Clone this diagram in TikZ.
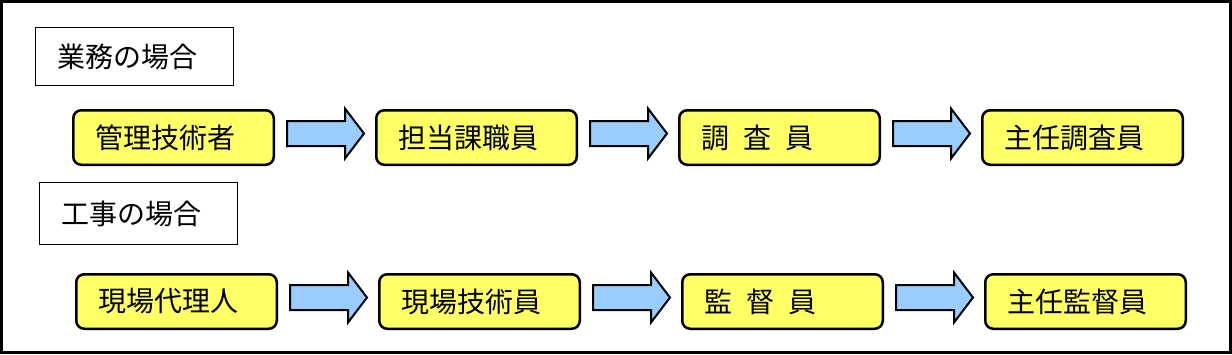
\documentclass[tikz,border=0pt]{standalone}
\usepackage{fontspec}
\newfontfamily\jpfont{Noto Sans CJK JP}
\usetikzlibrary{positioning,calc}
\definecolor{boxyellow}{HTML}{FFFF66}
\definecolor{arrowblue}{HTML}{99CCFF}

\tikzset{
  stepbox/.style={draw,line width=2.5pt,fill=boxyellow,rounded corners=8pt,
    minimum height=54.5pt,text width=156.5pt,inner xsep=22pt,inner ysep=0pt,
    align=left,font=\jpfont\fontsize{28}{34}\selectfont},
  casebox/.style={draw,line width=1pt,minimum height=58pt,text width=154pt,
    inner xsep=22pt,inner ysep=0pt,align=left,font=\jpfont\fontsize{28}{34}\selectfont},
  fatarrow/.style={draw,line width=2pt,fill=arrowblue,line join=miter}
}
\newcommand{\blockarrow}[2]{%
  \draw[fatarrow] let \p1=($(#1.east)+(12pt,4pt)$), \p2=($(#2.west)+(-11pt,4pt)$) in
    (\x1,{\y1+12.5pt}) -- ({\x2-19pt},{\y1+12.5pt}) -- ({\x2-19pt},{\y1+25pt})
    -- (\x2,\y1) -- ({\x2-19pt},{\y1-25pt}) -- ({\x2-19pt},{\y1-12.5pt})
    -- (\x1,{\y1-12.5pt}) -- cycle;}

\begin{document}
\begin{tikzpicture}[x=1pt,y=1pt,node distance=100pt]
\useasboundingbox[fill=white] (0,0) rectangle (1232,-354);
\draw[line width=3pt] (1.5,-1.5) rectangle (1230.5,-352.5);

% 業務
\node[casebox,anchor=north west] (gyomu) at (35,-27) {業務の場合};
\node[stepbox,anchor=north west] (g1) at (72,-109) {管理技術者};
\node[stepbox,right=of g1] (g2) {担当課職員};
\node[stepbox,right=of g2] (g3) {調\enspace 査\enspace 員};
\node[stepbox,right=of g3] (g4) {主任調査員};
\blockarrow{g1}{g2}
\blockarrow{g2}{g3}
\blockarrow{g3}{g4}

% 工事
\node[casebox,anchor=north west,minimum height=62pt] (koji) at (39,-182) {工事の場合};
\node[stepbox,anchor=north west] (k1) at (75,-273) {現場代理人};
\node[stepbox,right=of k1] (k2) {現場技術員};
\node[stepbox,right=of k2] (k3) {監\enspace 督\enspace 員};
\node[stepbox,right=of k3] (k4) {主任監督員};
\blockarrow{k1}{k2}
\blockarrow{k2}{k3}
\blockarrow{k3}{k4}
\end{tikzpicture}
\end{document}
